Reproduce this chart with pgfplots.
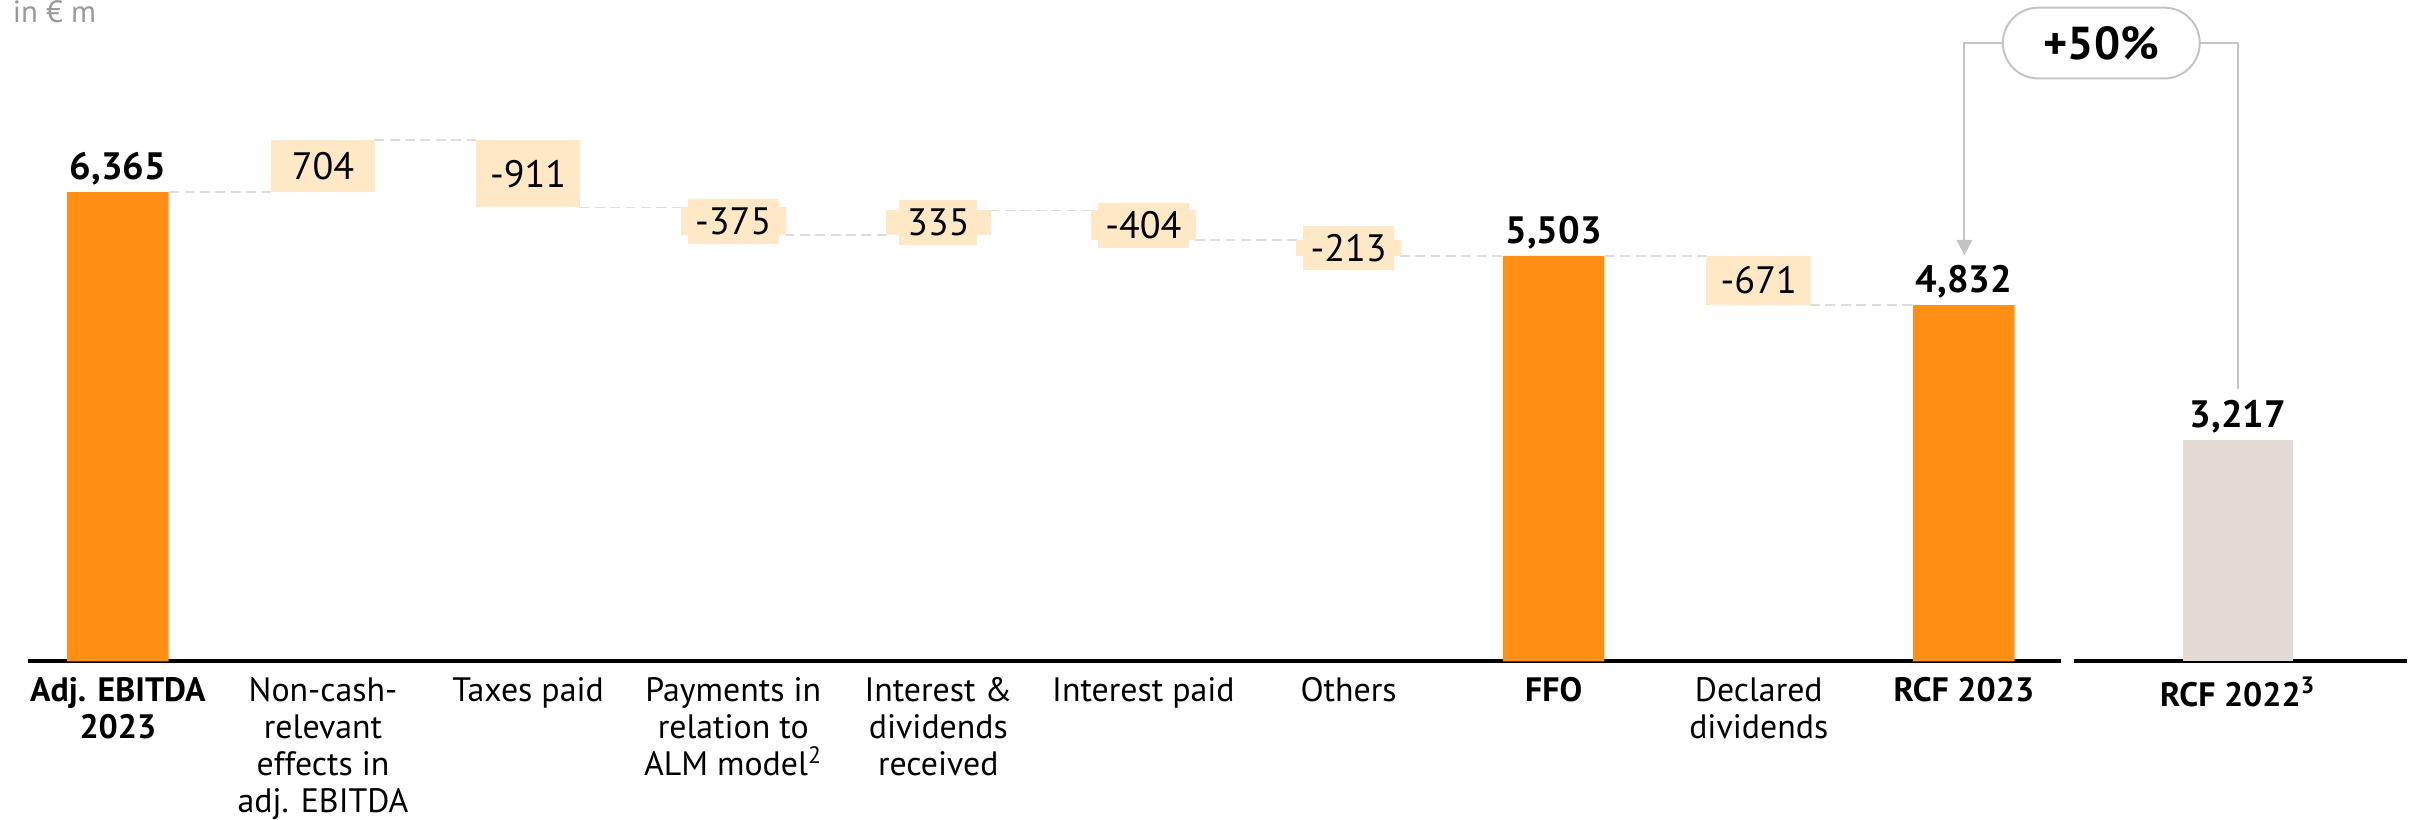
\documentclass[border=0pt]{standalone}
\usepackage{fontspec}
\setmainfont{PT Sans}
\usepackage{pgfplots}
\usepackage{pgfplotstable}
\pgfplotsset{compat=1.18}
\usetikzlibrary{arrows.meta}
\definecolor{barc}{HTML}{FF9015}
\definecolor{peach}{HTML}{FFE8C6}
\definecolor{prev}{HTML}{E2DAD5}
\definecolor{conn}{HTML}{DCDCDC}
\definecolor{anno}{HTML}{C4C4C4}
\definecolor{unitc}{HTML}{999999}

\pgfplotstableread{
x y lab
0 6365 {6,365}
7 5503 {5,503}
9 4832 {4,832}
}\totals

\pgfplotstableread{
x y e lab
1 6717 352 704
2 6613.5 455.5 -911
3 5970.5 187.5 -375
4 5950.5 167.5 335
5 5916 202 -404
6 5607.5 106.5 -213
8 5167.5 335.5 -671
}\floats

\begin{document}
\begin{tikzpicture}
\begin{axis}[
  at={(0pt,0pt)}, anchor=south west,
  width=661pt, height=215pt, scale only axis,
  xmin=-0.44, xmax=9.475, ymin=0, ymax=8973,
  axis x line*=bottom, axis y line=none,
  x axis line style={line width=1.3pt, -},
  xtick={0,...,9}, major tick length=0pt,
  xticklabels={{\textbf{Adj. EBITDA}\\\textbf{2023}},{Non-cash-\\relevant\\effects in\\adj. EBITDA},{Taxes paid},{Payments in\\relation to\\ALM model\textsuperscript{2}},{Interest \&\\dividends\\received},{Interest paid},{Others},{\textbf{FFO}},{Declared\\dividends},{\textbf{RCF 2023}}},
  xticklabel style={font=\fontsize{11}{12.1}\selectfont, align=center, anchor=north, yshift=-1.6pt},
  ytick=\empty, clip=false,
  unbounded coords=jump,
]
\addplot[conn, line width=0.6pt, dash pattern=on 3.2pt off 1.8pt] coordinates {
(0.25,6365) (0.75,6365) (0.75,nan)
(1.25,7069) (1.75,7069) (1.75,nan)
(2.25,6158) (2.75,6158) (2.75,nan)
(3.25,5783) (3.75,5783) (3.75,nan)
(4.25,6118) (4.75,6118) (4.75,nan)
(5.25,5714) (5.75,5714) (5.75,nan)
(6.25,5503) (6.75,5503) (6.75,nan)
(7.25,5503) (7.75,5503) (7.75,nan)
(8.25,4832) (8.75,4832)
};
\addplot[ybar, bar width=0.495, fill=barc, draw=none,
  nodes near coords, point meta=explicit symbolic,
  every node near coord/.append style={anchor=base, yshift=4pt, text=black, inner sep=0pt, font=\bfseries\fontsize{12.4}{14}\selectfont}]
  table[x=x, y=y, meta=lab] {\totals};
\addplot[only marks, mark=none,
  error bars/y dir=both, error bars/y explicit, error bars/error mark=none,
  error bars/error bar style={line width=34pt, draw=peach},
  nodes near coords, point meta=explicit symbolic,
  every node near coord/.append style={anchor=center, fill=peach, text=black, inner xsep=2.5pt, inner ysep=0pt, minimum height=14.5pt, font=\fontsize{12.4}{14}\selectfont}]
  table[x=x, y=y, y error=e, meta=lab] {\floats};
\end{axis}
\begin{axis}[
  at={(665pt,0pt)}, anchor=south west,
  width=108.5pt, height=215pt, scale only axis,
  xmin=-0.80, xmax=0.825, ymin=0, ymax=9601,
  axis x line*=bottom, axis y line=none,
  x axis line style={line width=1.3pt, -},
  xtick={0}, major tick length=0pt,
  xticklabels={{\textbf{RCF 2022\textsuperscript{3}}}},
  xticklabel style={font=\fontsize{11}{12.1}\selectfont, align=center, anchor=north, yshift=-1.6pt},
  ytick=\empty, clip=false,
]
\addplot[ybar, bar width=0.536, fill=prev, draw=none,
  nodes near coords, point meta=explicit symbolic,
  every node near coord/.append style={anchor=base, yshift=4pt, text=black, inner sep=0pt, font=\bfseries\fontsize{12.4}{14}\selectfont}]
  coordinates {(0,3217) [{3,217}]};
\end{axis}
\draw[anno, line width=0.65pt, -{Triangle[width=5pt,length=5pt]}] (642pt,201pt) -- (629.5pt,201pt) -- (629.5pt,132pt);
\draw[anno, line width=0.65pt] (706pt,201pt) -- (718.5pt,201pt) -- (718.5pt,88.5pt);
\node[draw=anno, line width=0.65pt, rounded corners=11.5pt, minimum width=64pt, minimum height=23pt, inner sep=0pt, font=\bfseries\fontsize{15}{18}\selectfont] at (674pt,201pt) {+50\%};
\node[anchor=north west, text=unitc, inner sep=0pt, font=\fontsize{10}{12}\selectfont] at (-5pt,215pt) {in € m};
\pgfresetboundingbox
\path (-9pt,-51.5pt) rectangle (775pt,215pt);
\end{tikzpicture}
\end{document}
